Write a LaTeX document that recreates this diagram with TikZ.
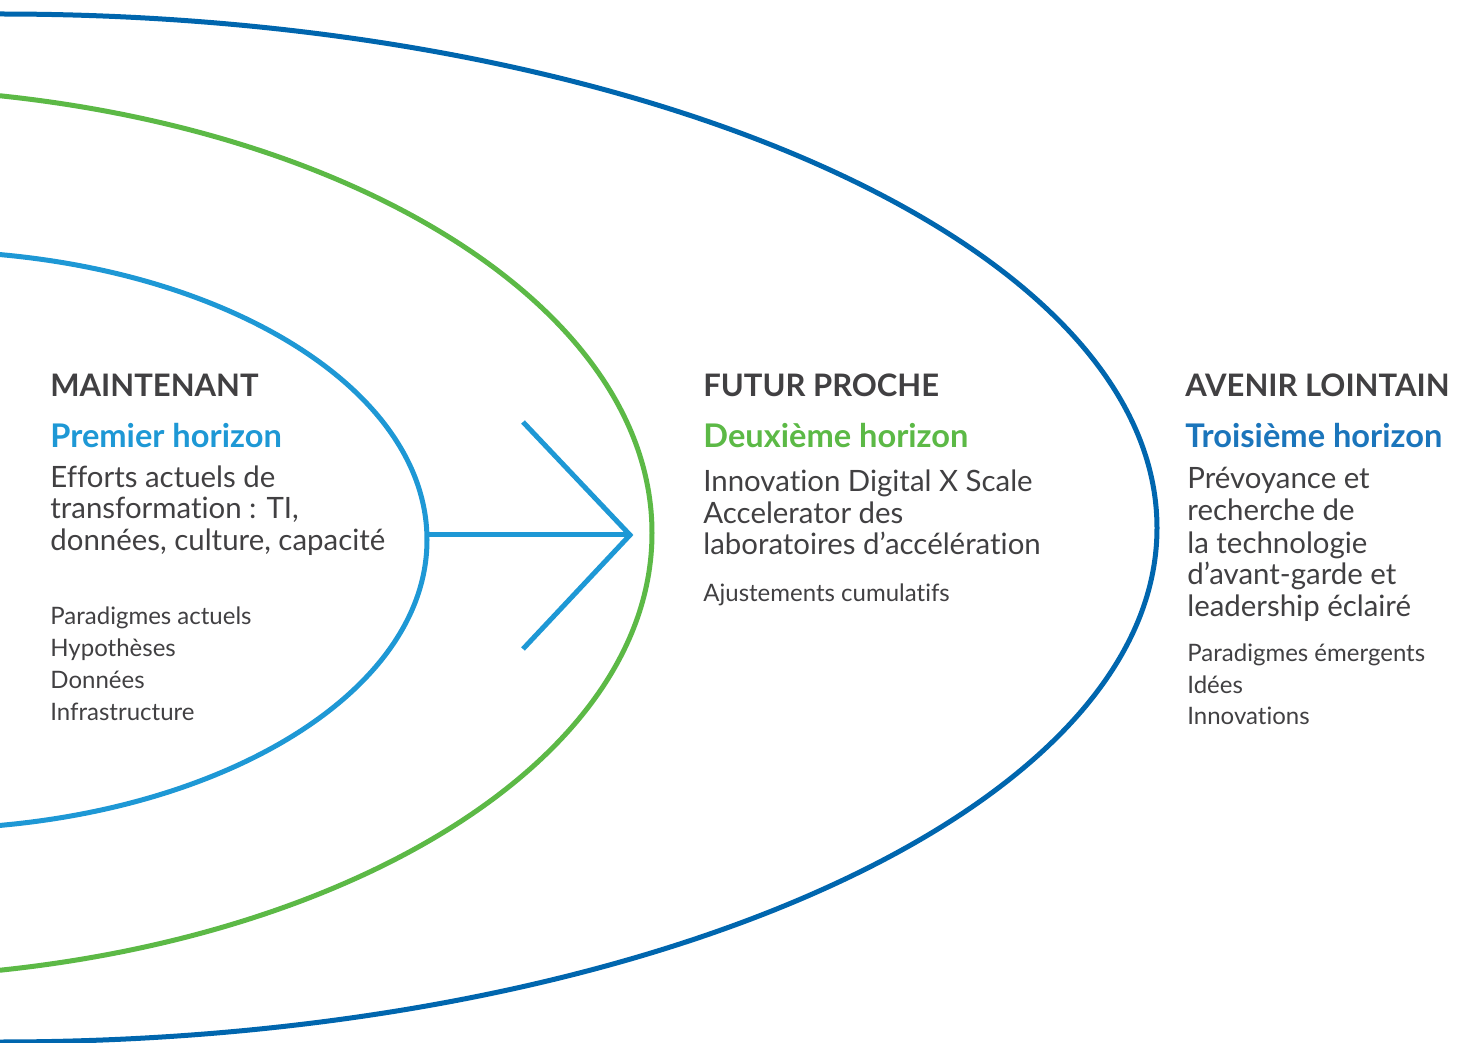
\documentclass[tikz,border=0pt]{standalone}
\usepackage{fontspec}
\setmainfont{Lato}[RawFeature={-liga;-calt;-dlig;-clig}]
\definecolor{innerblue}{HTML}{1E98D5}
\definecolor{midgreen}{HTML}{5CB946}
\definecolor{outerblue}{HTML}{0066AE}
\definecolor{farblue}{HTML}{1B75BB}
\definecolor{darktext}{HTML}{414042}
\begin{document}
\begin{tikzpicture}[x=0.5pt, y=-0.5pt,
  ring/.style={line width=2.5pt},
  head/.style={anchor=base west, inner sep=0pt, text=darktext, font=\bfseries\fontsize{15.5}{16}\selectfont},
  horizon/.style={anchor=base west, inner sep=0pt, font=\bfseries\fontsize{16.3}{16}\selectfont},
  body/.style={anchor=base west, inner sep=0pt, align=left, text=darktext, font=\fontsize{14.7}{16}\selectfont},
  small/.style={anchor=base west, inner sep=0pt, align=left, text=darktext, font=\fontsize{12}{16}\selectfont}]
  \useasboundingbox (0,0) rectangle (1464,1043);
  \clip (0,0) rectangle (1464,1043);
  % Rings
  \draw[ring, outerblue] (0,528) ellipse [x radius=578.5pt, y radius=257pt];
  \draw[ring, midgreen] (-150,533) ellipse [x radius=401pt, y radius=222.5pt];
  \draw[ring, innerblue] (-80,540) ellipse [x radius=253.5pt, y radius=144.5pt];
  % Nodes (anchored on the last line)
  \node (now) [head] at (50,397) {MAINTENANT};
  \node (h-1) [horizon, text=innerblue] at (50,448) {Premier horizon};
  \node (h-1-body) [body] at (50,551) {Efforts actuels de\\transformation : TI,\\données, culture, capacité};
  \node (h-1-list) [small] at (50,720) {Paradigmes actuels\\Hypothèses\\Données\\Infrastructure};
  \node (near) [head] at (703,397) {FUTUR PROCHE};
  \node (h-2) [horizon, text=midgreen] at (703,448) {Deuxième horizon};
  \node (h-2-body) [body] at (703,555) {Innovation Digital X Scale\\Accelerator des\\laboratoires d’accélération};
  \node (h-2-list) [small] at (703,602) {Ajustements cumulatifs};
  \node (far) [head] at (1185,397) {AVENIR LOINTAIN};
  \node (h-3) [horizon, text=farblue] at (1185,448) {Troisième horizon};
  \node (h-3-body) [body] at (1187,617) {Prévoyance et\\recherche de\\la technologie\\d’avant-garde et\\leadership éclairé};
  \node (h-3-list) [small] at (1187,725) {Paradigmes émergents\\Idées\\Innovations};
  % Arrow
  \coordinate (start) at (427,535);
  \coordinate (tip) at (630,535);
  \coordinate (barb-up) at (523,422);
  \coordinate (barb-down) at (523,649);
  \draw[ring, innerblue] (start) -- (tip);
  \draw[ring, innerblue, line join=miter] (barb-up) -- (tip) -- (barb-down);
\end{tikzpicture}
\end{document}
